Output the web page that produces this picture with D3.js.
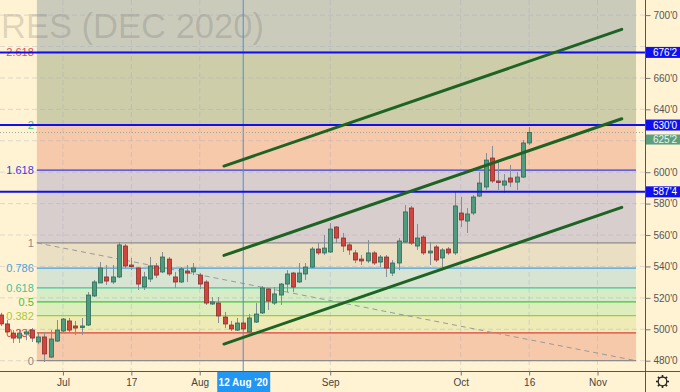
<!DOCTYPE html>
<html><head><meta charset="utf-8">
<script src="https://cdn.jsdelivr.net/npm/d3@7"></script>
<style>html,body{margin:0;padding:0;background:#FFF3D3;overflow:hidden}svg{display:block}</style>
</head><body><svg id="c" width="680" height="392"></svg>
<script>
// ---------- DATA ----------
const dates = [
"2020-06-17","2020-06-18","2020-06-19","2020-06-22","2020-06-23","2020-06-24","2020-06-25","2020-06-26","2020-06-29","2020-06-30",
"2020-07-01","2020-07-02","2020-07-06","2020-07-07","2020-07-08","2020-07-09","2020-07-10","2020-07-13","2020-07-14","2020-07-15","2020-07-16","2020-07-17","2020-07-20","2020-07-21","2020-07-22","2020-07-23","2020-07-24","2020-07-27","2020-07-28","2020-07-29","2020-07-30","2020-07-31",
"2020-08-03","2020-08-04","2020-08-05","2020-08-06","2020-08-07","2020-08-10","2020-08-11","2020-08-12","2020-08-13","2020-08-14","2020-08-17","2020-08-18","2020-08-19","2020-08-20","2020-08-21","2020-08-24","2020-08-25","2020-08-26","2020-08-27","2020-08-28","2020-08-31",
"2020-09-01","2020-09-02","2020-09-03","2020-09-04","2020-09-08","2020-09-09","2020-09-10","2020-09-11","2020-09-14","2020-09-15","2020-09-16","2020-09-17","2020-09-18","2020-09-21","2020-09-22","2020-09-23","2020-09-24","2020-09-25","2020-09-28","2020-09-29","2020-09-30",
"2020-10-01","2020-10-02","2020-10-05","2020-10-06","2020-10-07","2020-10-08","2020-10-09","2020-10-12","2020-10-13","2020-10-14","2020-10-15","2020-10-16"];
const open = [509.1,503.4,497.6,494.4,497.0,499.5,491.9,495.1,482.3,492.5,
498.9,505.3,502.1,501.4,502.7,521.2,529.5,533.3,530.1,533.3,553.0,540.9,539.0,526.9,532.0,540.3,536.5,544.7,533.3,530.1,537.1,536.5,
534.5,530.1,516.1,516.7,507.8,502.7,499.5,504.0,498.3,504.6,510.4,525.6,516.7,521.8,528.8,535.8,530.1,535.2,539.6,551.1,548.6,
549.2,565.1,558.1,553.7,548.6,544.7,543.5,548.6,542.8,546.0,535.8,542.2,555.6,577.2,553.0,558.7,548.6,552.4,545.4,551.1,548.6,
574.0,568.9,574.0,584.8,590.6,609.0,594.4,591.8,596.3,593.7,596.9,618.6];
const high = [510.5,505.9,499.5,499.5,500.0,500.8,497.6,498.3,499.5,505.9,
507.2,507.2,505.3,507.2,523.7,531.4,542.8,540.9,540.9,555.6,554.3,545.4,539.6,536.5,546.0,542.2,549.2,546.0,536.5,539.6,540.9,542.2,
535.8,531.4,520.5,520.5,511.0,505.3,507.2,505.3,509.7,516.7,527.5,526.3,526.9,529.5,537.7,536.5,542.2,542.2,552.4,554.9,560.0,
567.6,565.7,561.3,555.6,550.5,547.3,556.8,549.8,547.3,547.3,544.1,558.1,579.1,578.5,567.0,560.0,555.6,553.7,551.7,552.4,587.4,
584.2,577.2,585.5,600.1,612.2,616.7,606.5,598.8,604.6,600.1,620.5,628.7];
const low = [502.0,497.6,491.3,491.3,493.0,491.9,490.5,479.2,481.7,491.9,
498.3,497.6,496.4,496.4,502.1,520.5,529.5,528.2,528.8,532.6,539.0,537.7,525.0,525.0,530.1,532.6,535.8,533.9,526.3,529.5,530.1,534.5,
525.6,515.5,515.5,504.0,500.8,498.9,498.9,498.9,497.6,504.0,509.7,512.3,515.5,515.5,523.7,523.7,529.5,531.4,539.0,547.3,547.3,
548.6,554.9,549.2,547.3,542.2,540.9,542.2,540.9,539.6,533.3,533.9,537.7,554.9,553.7,550.5,547.3,540.9,542.8,537.7,547.3,547.3,
565.1,561.3,572.7,584.2,588.7,593.1,588.7,586.8,590.6,588.7,596.3,617.3];
const close = [503.4,498.3,494.4,497.6,498.3,494.4,495.1,484.3,493.8,499.5,
506.5,499.5,500.8,502.1,521.8,530.1,539.0,530.7,533.3,553.7,540.3,539.9,528.8,533.3,540.3,534.5,546.0,535.2,530.1,538.4,535.8,539.0,
528.8,516.7,517.4,508.5,503.4,500.2,504.0,500.2,507.2,509.7,526.3,518.0,522.5,528.8,535.2,526.9,535.8,539.6,551.1,548.6,551.7,
563.8,558.1,553.0,550.5,544.1,543.5,548.6,542.2,546.0,539.0,542.2,556.2,574.7,554.9,558.1,548.6,549.8,544.1,550.5,548.6,578.5,
569.6,573.4,584.2,593.1,607.7,594.4,593.4,594.4,593.7,596.9,618.6,625.25];

const priceTicks = [480,500,520,540,560,580,600,620,640,660,680,700];
const xTickPos = [10,21,32,53,74,85,96];           // trading-day positions (Nov 2 lies in the future)
const xTickLabels = ["Jul","17","Aug","Sep","Oct","16","Nov"];

const fibLow = 480, fibHigh = 555;
const fibStartPos = 5.8, fibEndPos = 102.2;
const fibLevels = [0,0.236,0.382,0.5,0.618,0.786,1,1.618,2,2.618,3.618];
const fibLabels = ["0","0.236","0.382","0.5","0.618","0.786","1","1.618","2","2.618","3.618"];
const fibLineColors = ["#8C8C8C","#E0403A","#A5C93A","#3DC43D","#3CC5A0","#4AA3D8","#8C8C8C","#3B3BE0","#3CC58A","#E05050","#B070C0"];
const fibZoneColors = ["#F6C9AA","#EEEBB6","#DDEDBB","#D6ECC6","#D7E3D3","#EBDFC3","#D9CECE","#F6C9AA","#CDCDAA","#CBCBBC"];

const hLevels = [676.25, 630, 587.5];
const hLabels = ["676'2","630'0","587'4"];
const lastPrice = 625.25, lastLabel = "625'2";

const channelStart = 35.9, channelEnd = 99.9;
const channelStartPrices = [603.9, 547.0, 490.6];
const channelEndPrices = [690.9, 634.0, 577.6];

const crossPos = 39, crossLabel = "12 Aug '20";
const watermark = "RES (DEC 2020)";

// ---------- LAYOUT ----------
const W = 680, H = 392, plotR = 645, plotB = 371;
const svg = d3.select("#c");
const x = d3.scaleLinear().domain([-0.13, 103.64]).range([0, plotR]);
const y = d3.scaleLinear().domain([480, 700]).range([360.7, 15.1]);
const fibY = l => y(fibLow + l * (fibHigh - fibLow));
const fmt = p => Math.floor(p) + "'" + Math.round((p - Math.floor(p)) * 8);
const FONT = "'Liberation Sans', Arial, sans-serif";

svg.append("rect").attr("width", W).attr("height", H).attr("fill", "#FFF3D3");

const plot = svg.append("g");
plot.append("clipPath").attr("id","pc").append("rect").attr("x",0).attr("y",0).attr("width",plotR).attr("height",plotB);
const g = plot.append("g").attr("clip-path","url(#pc)");

// fib zones
const fx0 = x(fibStartPos), fx1 = x(fibEndPos);
for (let i = 0; i < fibLevels.length - 1; i++) {
  const ya = fibY(fibLevels[i+1]), yb = fibY(fibLevels[i]);
  g.append("rect").attr("x", fx0).attr("width", fx1 - fx0)
    .attr("y", ya).attr("height", yb - ya).attr("fill", fibZoneColors[i]);
}

// watermark
g.append("text").attr("x", 1).attr("y", 38).attr("textLength", 263).attr("lengthAdjust", "spacingAndGlyphs")
  .attr("font-family", FONT).attr("font-size", 35).attr("fill", "rgba(80,80,80,0.19)")
  .text(watermark);

// grid
g.selectAll(".hg").data(priceTicks).join("line")
  .attr("x1", 0).attr("x2", plotR).attr("y1", d => y(d)).attr("y2", d => y(d))
  .attr("stroke", "rgba(160,165,190,0.35)").attr("stroke-dasharray", "5,3");
g.selectAll(".vg").data(xTickPos).join("line")
  .attr("x1", d => x(d)).attr("x2", d => x(d)).attr("y1", 0).attr("y2", plotB)
  .attr("stroke", "rgba(160,165,190,0.35)").attr("stroke-dasharray", "5,3");

// fib lines + labels
fibLevels.forEach((l, i) => {
  if (l > 3) return;
  g.append("line").attr("x1", fx0).attr("x2", fx1).attr("y1", fibY(l)).attr("y2", fibY(l))
    .attr("stroke", fibLineColors[i]).attr("stroke-width", 1.2);
  g.append("text").attr("x", fx0 - 3).attr("y", fibY(l)).attr("dy", "0.35em")
    .attr("text-anchor", "end").attr("font-family", FONT).attr("font-size", 11)
    .attr("fill", fibLineColors[i]).text(fibLabels[i]);
});
// fib diagonal
g.append("line").attr("x1", fx0).attr("y1", fibY(1)).attr("x2", fx1).attr("y2", fibY(0))
  .attr("stroke", "#9A9A9A").attr("stroke-width", 1).attr("stroke-dasharray", "5,4");

// crosshair
g.append("line").attr("x1", x(crossPos)).attr("x2", x(crossPos)).attr("y1", 0).attr("y2", plotB)
  .attr("stroke", "#4A8FD8").attr("stroke-width", 1);

// last price dotted line
g.append("line").attr("x1", 0).attr("x2", plotR).attr("y1", y(lastPrice)).attr("y2", y(lastPrice))
  .attr("stroke", "#9AA89C").attr("stroke-width", 1).attr("stroke-dasharray", "1,2");

// candles
const cd = dates.map((d, i) => ({i, o: open[i], h: high[i], l: low[i], c: close[i]}));
const cg = g.append("g");
cg.selectAll(".w").data(cd).join("line")
  .attr("x1", d => Math.round(x(d.i)) + 0.5).attr("x2", d => Math.round(x(d.i)) + 0.5)
  .attr("y1", d => y(d.h)).attr("y2", d => y(d.l))
  .attr("stroke", "#868C98").attr("stroke-width", 1);
cg.selectAll(".b").data(cd).join("rect")
  .attr("x", d => Math.round(x(d.i)) - 1.5).attr("width", 4)
  .attr("y", d => y(Math.max(d.o, d.c)))
  .attr("height", d => Math.max(1.5, Math.abs(y(d.o) - y(d.c))))
  .attr("fill", d => d.c >= d.o ? "#4F9B80" : "#D0463F")
  .attr("stroke", d => d.c >= d.o ? "#2C6A55" : "#8E2C2A").attr("stroke-width", 0.8);

// horizontal blue levels
hLevels.forEach(p => {
  g.append("line").attr("x1", 0).attr("x2", plotR).attr("y1", y(p)).attr("y2", y(p))
    .attr("stroke", "#1010EE").attr("stroke-width", 2);
});

// channel
channelStartPrices.forEach((p, i) => {
  g.append("line").attr("x1", x(channelStart)).attr("y1", y(p))
    .attr("x2", x(channelEnd)).attr("y2", y(channelEndPrices[i]))
    .attr("stroke", "#1D6424").attr("stroke-width", 3).attr("stroke-linecap", "round");
});

// axes lines
svg.append("line").attr("x1", plotR + 0.5).attr("x2", plotR + 0.5).attr("y1", 0).attr("y2", H)
  .attr("stroke", "#555").attr("stroke-width", 1);
svg.append("line").attr("x1", 0).attr("x2", W).attr("y1", plotB + 0.5).attr("y2", plotB + 0.5)
  .attr("stroke", "#555").attr("stroke-width", 1);

// right axis via d3 (ticks hidden behind the level boxes are omitted)
const hidden = [620, 680];
const ra = svg.append("g").attr("transform", `translate(${plotR + 0.5},0)`)
  .call(d3.axisRight(y).tickValues(priceTicks.filter(t => !hidden.includes(t))).tickFormat(fmt).tickSize(5).tickPadding(3));
ra.select(".domain").remove();
ra.selectAll(".tick line").attr("stroke", "#777");
ra.selectAll(".tick text").attr("font-family", FONT).attr("font-size", 10).attr("fill", "#555");

// bottom axis via d3
const ba = svg.append("g").attr("transform", `translate(0,${plotB + 0.5})`)
  .call(d3.axisBottom(x).tickValues(xTickPos).tickFormat((d, i) => xTickLabels[i]).tickSize(4).tickPadding(3));
ba.select(".domain").remove();
ba.selectAll(".tick line").attr("stroke", "#777");
ba.selectAll(".tick text").attr("font-family", FONT).attr("font-size", 10).attr("fill", "#444");

// price label boxes
function priceBox(p, label, fill, tc) {
  const cy = y(p);
  svg.append("rect").attr("x", plotR + 1).attr("y", cy - 5.5).attr("width", W - plotR - 1).attr("height", 11).attr("fill", fill);
  svg.append("text").attr("x", plotR + 8).attr("y", cy).attr("dy", "0.35em")
    .attr("font-family", FONT).attr("font-size", 10).attr("fill", tc).text(label);
}
hLevels.forEach((p, i) => priceBox(p, hLabels[i], "#1010EE", "#FFFFFF"));
// last price label (shifted below the 630 box to avoid overlap, as in the chart)
(function(){
  const cy = y(lastPrice) + 7;
  svg.append("rect").attr("x", plotR + 1).attr("y", cy - 5).attr("width", W - plotR - 1).attr("height", 10).attr("fill", "#5E9E80");
  svg.append("text").attr("x", plotR + 8).attr("y", cy).attr("dy", "0.35em")
    .attr("font-family", FONT).attr("font-size", 10).attr("fill", "#EAF5EA").text(lastLabel);
})();

// crosshair date label
(function(){
  const cx = x(crossPos);
  svg.append("rect").attr("x", cx - 26).attr("y", plotB + 1).attr("width", 53).attr("height", H - plotB - 1).attr("fill", "#2196F3");
  svg.append("text").attr("x", cx).attr("y", plotB + 11).attr("dy", "0.35em").attr("text-anchor", "middle")
    .attr("font-family", FONT).attr("font-size", 10).attr("font-weight", "bold").attr("fill", "#FFFFFF").text(crossLabel);
})();

// gear icon
(function(){
  const gx = 662.5, gy = 381.5, gi = svg.append("g").attr("transform", `translate(${gx},${gy})`);
  for (let k = 0; k < 8; k++) {
    const a = k * Math.PI / 4;
    gi.append("line").attr("x1", Math.cos(a) * 4).attr("y1", Math.sin(a) * 4)
      .attr("x2", Math.cos(a) * 6.5).attr("y2", Math.sin(a) * 6.5)
      .attr("stroke", "#222").attr("stroke-width", 1.6);
  }
  gi.append("circle").attr("r", 4.3).attr("fill", "#FFF3D3").attr("stroke", "#222").attr("stroke-width", 1.2);
})();
</script></body></html>
